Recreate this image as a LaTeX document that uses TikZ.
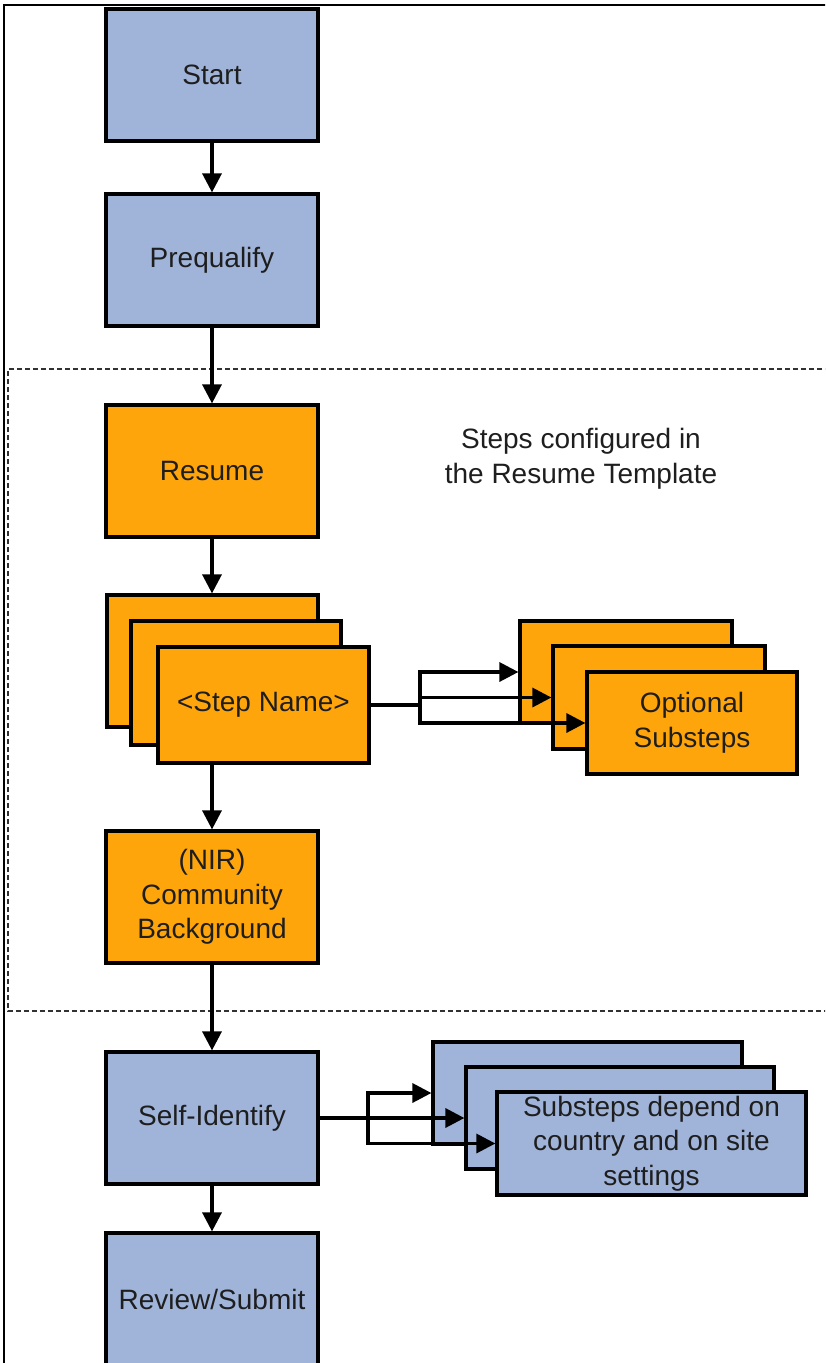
\documentclass[tikz,border=0pt]{standalone}
\usepackage{fontspec}
\setmainfont{Liberation Sans}
\usetikzlibrary{arrows.meta}
\definecolor{boxblue}{RGB}{160,180,218}
\definecolor{boxorange}{RGB}{255,165,12}
\definecolor{txt}{RGB}{30,30,30}
\definecolor{dashgray}{RGB}{50,50,50}
\begin{document}
\begin{tikzpicture}[x=1pt,y=-1pt,
  box/.style={draw=black, line width=3.2pt, inner sep=0pt, align=center, text=txt,
    font=\fontsize{28}{34.5}\selectfont},
  bluebox/.style={box, fill=boxblue},
  orangebox/.style={box, fill=boxorange},
  mainbox/.style={minimum width=212pt, minimum height=132pt},
  conn/.style={line width=3.3pt, draw=black},
  arr/.style={conn, -{Triangle[length=19pt,width=19pt]}},
  note/.style={align=center, text=txt, font=\fontsize{28}{34.5}\selectfont}
]
\useasboundingbox (0,0) rectangle (825,1363);
\clip (0,0) rectangle (825,1363);
\fill[white] (0,0) rectangle (825,1363);

% outer frame
\draw[line width=1.6pt] (4,1370) -- (4,5) -- (830,5);

% dashed region
\draw[line width=2.6pt, draw=dashgray, dash pattern=on 5pt off 3pt]
  (830,369) -- (8,369) -- (8,1011) -- (830,1011);

% main column
\node[bluebox, mainbox] (start) at (212,75) {Start};
\node[bluebox, mainbox] (preq) at (212,260) {Prequalify};
\node[orangebox, mainbox] (resume) at (212,471) {Resume};

% step stack
\node[orangebox, minimum width=211pt, minimum height=132pt] (sb1) at (212.5,661) {};
\node[orangebox, minimum width=210pt, minimum height=124pt] (sb2) at (236,683) {};
\node[orangebox, minimum width=211pt, minimum height=116pt] (sb3) at (263.5,705) {<Step Name>};

\node[orangebox, mainbox] (nir) at (212,897) {(NIR)\\Community\\Background};
\node[bluebox, mainbox] (self) at (212,1118) {Self-Identify};
\node[bluebox, mainbox] (review) at (212,1299) {Review/Submit};

% optional substeps stack
\node[orangebox, minimum width=212pt, minimum height=102pt] (ob1) at (626,672) {};
\node[orangebox, minimum width=212pt, minimum height=103pt] (ob2) at (659,697.5) {};
\node[orangebox, minimum width=210pt, minimum height=102pt] (ob3) at (692,723) {Optional\\Substeps};

% country substeps stack
\node[bluebox, minimum width=309pt, minimum height=102pt] (cb1) at (587.5,1093) {};
\node[bluebox, minimum width=308pt, minimum height=102pt] (cb2) at (620,1118) {};
\node[bluebox, minimum width=309pt, minimum height=103pt] (cb3) at (651.5,1143.5) {Substeps depend on\\country and on site\\settings};

% the note
\node[note] (notetext) at (581,459) {Steps configured in\\the Resume Template};

% vertical connectors
\draw[arr] (start) -- (preq);
\draw[arr] (preq) -- (resume);
\draw[arr] (resume.south) -- (resume.south |- sb1.north);
\draw[arr] (sb3.south -| nir.north) -- (nir.north);
\draw[arr] (nir) -- (self);
\draw[arr] (self) -- (review);

% optional substeps connectors
\coordinate (j1) at (420,705);
\draw[conn] (sb3.east) -- (j1);
\draw[conn, line cap=rect] (j1 |- ob1.west) -- (j1 |- ob3.west);
\draw[arr] (j1 |- ob1.west) -- (ob1.west);
\draw[arr] (j1 |- ob2.west) -- (ob2.west);
\draw[arr] (j1 |- ob3.west) -- (ob3.west);

% country substeps connectors
\coordinate (j2) at (368,1118);
\draw[conn] (self.east) -- (j2);
\draw[conn, line cap=rect] (j2 |- cb1.west) -- (j2 |- cb3.west);
\draw[arr] (j2 |- cb1.west) -- (cb1.west);
\draw[arr] (j2) -- (cb2.west);
\draw[arr] (j2 |- cb3.west) -- (cb3.west);
\end{tikzpicture}
\end{document}
